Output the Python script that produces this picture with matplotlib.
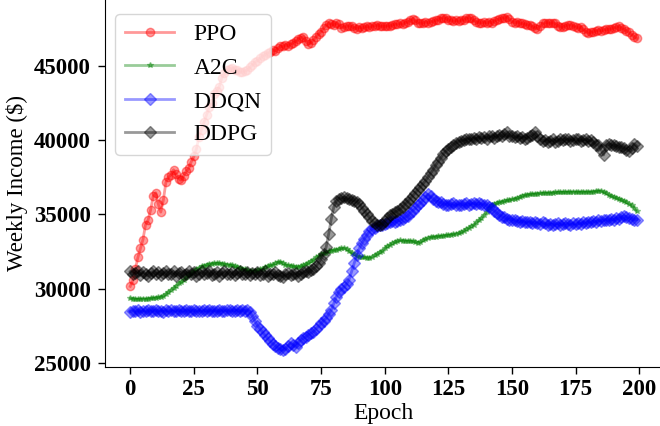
import matplotlib
matplotlib.use("Agg")
import matplotlib.pyplot as plt
import numpy as np

plt.rcParams['font.family'] = ['Liberation Serif', 'DejaVu Serif']

epochs = list(range(200))

ppo = [30150, 30550, 31300, 32100, 32700, 33300, 34300, 34600, 35300, 36200,
       36450, 35700, 35150, 35950, 37150, 37500, 37650, 38000, 37700, 37400,
       37300, 37600, 37900, 38100, 38550, 38900, 39400, 40200, 40700, 41200,
       41700, 42200, 42500, 43100, 43300, 43600, 44200, 44500, 44700, 44800,
       44850, 44750, 44700, 44600, 44550, 44650, 44700, 44900, 45050, 45250,
       45350, 45500, 45650, 45750, 45850, 45950, 46050, 46000, 46200, 46300,
       46300, 46400, 46350, 46450, 46550, 46650, 46800, 46900, 46950, 46700,
       46450, 46550, 46750, 46950, 47150, 47300, 47550, 47750, 47850, 47800,
       47750, 47850, 47800, 47550, 47600, 47650, 47700, 47650, 47550, 47500,
       47600, 47550, 47600, 47650, 47600, 47650, 47700, 47750, 47700, 47650,
       47650, 47700, 47650, 47750, 47800, 47800, 47850, 47800, 47900, 47950,
       48050, 48150, 48050, 47900, 47850, 47900, 47950, 47900, 47950, 48000,
       48050, 48100, 48200, 48250, 48200, 48100, 48050, 48000, 48050, 48000,
       48050, 48100, 48200, 48250, 48200, 48050, 47950, 47900, 47900, 47950,
       47900, 47950, 47900, 48000, 48100, 48150, 48200, 48250, 48300, 48150,
       47950, 47900, 47950, 47900, 47850, 47800, 47750, 47750, 47650, 47550,
       47500, 47650, 47850, 47900, 47900, 47850, 47900, 47850, 47700, 47600,
       47600, 47700, 47750, 47750, 47700, 47600, 47550, 47600, 47450, 47300,
       47200, 47250, 47300, 47350, 47400, 47350, 47400, 47450, 47450, 47500,
       47550, 47600, 47650, 47550, 47450, 47350, 47250, 47100, 46950, 46850]

a2c = [29350, 29330, 29300, 29280, 29300, 29320, 29300, 29330, 29350, 29370,
       29380, 29400, 29450, 29520, 29650, 29780, 29900, 30050, 30200, 30350,
       30450, 30600, 30750, 30900, 31050, 31200, 31300, 31400, 31500, 31550,
       31620, 31650, 31680, 31700, 31690, 31700, 31680, 31650, 31620, 31600,
       31570, 31500, 31450, 31400, 31350, 31300, 31250, 31200, 31150, 31180,
       31250, 31300, 31350, 31450, 31500, 31560, 31620, 31700, 31780, 31790,
       31720, 31600, 31560, 31530, 31500, 31460, 31480, 31500, 31560, 31650,
       31750, 31850, 31950, 32100, 32200, 32300, 32380, 32420, 32500, 32550,
       32600, 32630, 32670, 32700, 32720, 32660, 32520, 32400, 32300, 32200,
       32150, 32130, 32100, 32060, 32080, 32150, 32240, 32350, 32450, 32550,
       32700, 32850, 32950, 33050, 33150, 33200, 33250, 33230, 33220, 33200,
       33200, 33180, 33150, 33100, 33150, 33250, 33350, 33430, 33470, 33500,
       33500, 33520, 33540, 33550, 33580, 33600, 33630, 33660, 33700, 33720,
       33800, 33900, 34000, 34100, 34200, 34300, 34450, 34600, 34750, 34950,
       35150, 35400, 35600, 35700, 35770, 35820, 35860, 35900, 35940, 35960,
       36000, 36050, 36100, 36170, 36250, 36300, 36320, 36340, 36360, 36380,
       36400, 36410, 36420, 36430, 36440, 36450, 36460, 36470, 36470, 36480,
       36480, 36490, 36500, 36500, 36510, 36510, 36500, 36500, 36510, 36500,
       36510, 36520, 36530, 36560, 36580, 36580, 36500, 36420, 36330, 36250,
       36180, 36120, 36050, 35980, 35900, 35800, 35700, 35600, 35420, 35200]

ddqn = [28450, 28500, 28480, 28550, 28450, 28520, 28480, 28560, 28470, 28500,
        28550, 28480, 28520, 28450, 28530, 28500, 28560, 28470, 28510, 28540,
        28480, 28520, 28560, 28460, 28500, 28550, 28490, 28520, 28470, 28540,
        28500, 28560, 28480, 28520, 28460, 28550, 28500, 28480, 28530, 28560,
        28490, 28520, 28560, 28480, 28550, 28520, 28560, 28420, 28150, 27800,
        27500, 27300, 27050, 26850, 26650, 26450, 26300, 26150, 26000, 25900,
        25850, 25950, 26150, 26350, 26200, 26050, 26350, 26550, 26650, 26750,
        26900, 27000, 27100, 27300, 27450, 27650, 27850, 28000, 28300, 28550,
        29000, 29450, 29800, 29950, 30100, 30300, 30600, 31150, 31700, 32250,
        32700, 33050, 33350, 33600, 33850, 34000, 34100, 34200, 34250, 34300,
        34350, 34400, 34480, 34520, 34500, 34550, 34600, 34700, 34800, 34900,
        35100, 35250, 35400, 35600, 35750, 35950, 36150, 36350, 36200, 36050,
        35900, 35850, 35800, 35700, 35650, 35600, 35700, 35750, 35650, 35600,
        35650, 35700, 35750, 35650, 35700, 35750, 35700, 35750, 35700, 35650,
        35600, 35500, 35400, 35250, 35100, 34950, 34850, 34800, 34700, 34650,
        34650, 34600, 34550, 34500, 34550, 34500, 34450, 34500, 34400, 34450,
        34400, 34350, 34450, 34400, 34300, 34350, 34300, 34350, 34400, 34300,
        34350, 34400, 34350, 34300, 34400, 34350, 34400, 34350, 34450, 34400,
        34500, 34450, 34550, 34500, 34600, 34550, 34600, 34650, 34600, 34700,
        34650, 34750, 34700, 34800, 34900, 34850, 34750, 34700, 34600, 34650]

ddpg = [31150, 30950, 31050, 31200, 30900, 31100, 31000, 30850, 31050, 31150,
        30950, 31100, 30900, 31050, 31200, 30950, 31000, 31150, 30850, 31050,
        31100, 30900, 31000, 31200, 30950, 31100, 30850, 31000, 31150, 30950,
        31050, 31200, 30900, 31000, 31100, 30850, 31050, 31150, 30950, 31000,
        31100, 30900, 31050, 31150, 30950, 31000, 31100, 30900, 31050, 30950,
        31100, 30900, 31000, 31150, 30850, 31000, 30950, 31100, 30900, 30850,
        30800, 30950, 31050, 30900, 31000, 31050, 30850, 31000, 31100, 31150,
        31100, 31250, 31350, 31500, 31750, 32000, 32300, 32800, 33700, 34700,
        35500, 35900, 36050, 36100, 36150, 36100, 36000, 35950, 35900, 35850,
        35700, 35450, 35250, 35000, 34800, 34550, 34400, 34300, 34250, 34350,
        34550, 34750, 34950, 35050, 35150, 35250, 35350, 35500, 35700, 35850,
        36050, 36250, 36450, 36650, 36850, 37050, 37250, 37500, 37750, 38000,
        38300, 38550, 38800, 39050, 39250, 39400, 39550, 39700, 39800, 39900,
        39950, 40000, 40050, 40100, 40050, 40150, 40100, 40200, 40150, 40200,
        40100, 40250, 40300, 40150, 40250, 40350, 40250, 40400, 40550, 40300,
        40250, 40200, 40300, 40150, 40200, 40100, 40150, 40250, 40350, 40550,
        40250, 40050, 39950, 40000, 39900, 39950, 40050, 39900, 39950, 40050,
        40000, 40100, 40050, 39950, 40000, 40100, 40050, 39950, 40000, 40050,
        39950, 40000, 39850, 39650, 39700, 39350, 39000, 39650, 39750, 39700,
        39650, 39600, 39550, 39500, 39450, 39350, 39250, 39450, 39750, 39600]

series_names = ["PPO", "A2C", "DDQN", "DDPG"]
x_ticks = [0, 25, 50, 75, 100, 125, 150, 175, 200]
y_ticks = [25000, 30000, 35000, 40000, 45000]

fig = plt.figure(figsize=(6.6, 4.26), dpi=100)
ax = fig.add_axes([0.159, 0.1385, 0.844, 0.8615])

ax.plot(epochs, ppo, color='red', marker='o', markersize=6, linewidth=2, alpha=0.4, label=series_names[0])
ax.plot(epochs, a2c, color='green', marker='*', markersize=4, linewidth=2, alpha=0.4, label=series_names[1])
ax.plot(epochs, ddqn, color='blue', marker='D', markersize=6.5, linewidth=2, alpha=0.4, label=series_names[2])
ax.plot(epochs, ddpg, color='black', marker='D', markersize=6.5, linewidth=2, alpha=0.4, label=series_names[3])

ax.set_xlim(-9.95, 208.95)
ax.set_ylim(24720, 49430)
ax.set_xticks(x_ticks)
ax.set_yticks(y_ticks)
for lbl in ax.get_xticklabels() + ax.get_yticklabels():
    lbl.set_fontweight('bold')
    lbl.set_fontsize(16.5)
ax.tick_params(length=5, width=1)
ax.tick_params(axis='y', pad=5.2)
ax.spines['top'].set_visible(False)
ax.spines['right'].set_visible(False)
ax.set_xlabel("Epoch", fontsize=17, labelpad=2)
ax.set_ylabel("Weekly Income ($)", fontsize=16.5, labelpad=4)
ax.legend(loc='upper left', fontsize=17, handlelength=2.1, bbox_to_anchor=(-0.0024, 0.993))

fig.savefig("out.png", dpi=100)
